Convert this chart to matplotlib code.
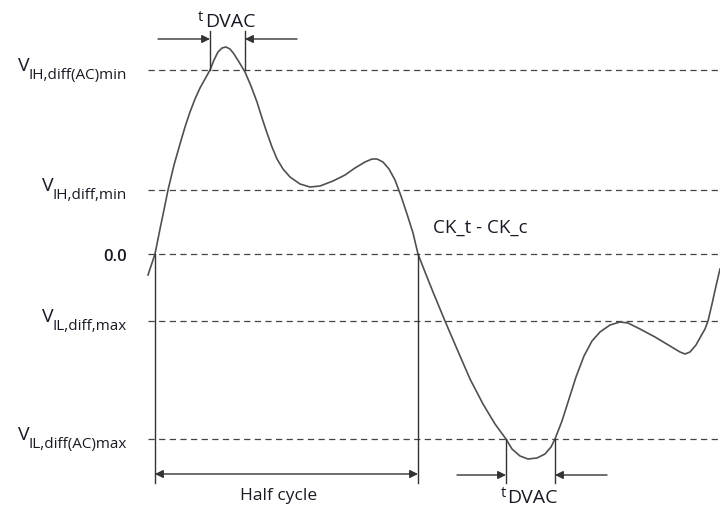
import matplotlib
matplotlib.use("Agg")
import matplotlib.pyplot as plt

plt.rcParams['font.family'] = ['Open Sans', 'DejaVu Sans']

# Reference levels (pixel-space units, y grows downwards)
level_main = ['V', 'V', '0.0', 'V', 'V']
level_sub = ['IH,diff(AC)min', 'IH,diff,min', '', 'IL,diff,max', 'IL,diff(AC)max']
level_y = [71, 191, 255, 322, 440]

# Waveform CK_t - CK_c
wave_x = [148, 152, 155, 160, 165, 168, 174, 180, 185, 190, 195, 200, 205, 210, 214, 218, 222, 226,
          230, 234, 239, 245, 251, 257, 262, 267, 272, 277, 283, 290, 300, 310, 320, 333, 345, 355,
          365, 372, 377, 383, 389, 395, 401, 407, 413, 418, 425, 433, 445, 457, 470, 483, 495, 506,
          512, 520, 528, 537, 545, 551, 555, 562, 569, 576, 584, 592, 600, 610, 620, 628, 640, 655,
          670, 680, 685, 690, 696, 701, 705, 708, 712, 716, 720]
wave_y = [276, 264, 255, 230, 206, 191, 166, 145, 128, 113, 100, 89, 80, 71, 61, 53, 49, 48,
          50, 55, 63, 73, 87, 103, 119, 134, 148, 160, 170, 178, 185, 188, 187, 182, 176, 169,
          163, 160, 160, 163, 170, 181, 197, 215, 234, 255, 273, 293, 322, 350, 380, 405, 425, 440,
          450, 457, 460, 459, 455, 448, 440, 422, 400, 378, 357, 342, 333, 326, 323, 324, 330, 338,
          347, 353, 355, 353, 346, 337, 330, 322, 305, 287, 270]

# Timing markers
half_cycle_x = [155, 418]
tdvac_top_x = [210, 245]
tdvac_bot_x = [506, 555]

fig = plt.figure(figsize=(7.2, 5.06), dpi=100)
ax = fig.add_axes([0, 0, 1, 1])
ax.set_xlim(0, 720)
ax.set_ylim(506, 0)
ax.axis('off')

txt = '#1a1a24'
lc = '#333333'

fig.canvas.draw()
renderer = fig.canvas.get_renderer()
inv = ax.transData.inverted()

for main, sub, y in zip(level_main, level_sub, level_y):
    ax.plot([148, 720], [y, y], color='#444444', lw=0.9, dashes=(5, 3.5))
    if sub == '':
        ax.text(127, y + 6, main, ha='right', va='baseline', fontsize=12, color=txt,
                fontweight='semibold')
    else:
        t = ax.text(127, y + 8, sub, ha='right', va='baseline', fontsize=11, color=txt)
        bb = t.get_window_extent(renderer)
        left = inv.transform((bb.x0, bb.y0))[0]
        ax.text(left + 0.5, y, main, ha='right', va='baseline', fontsize=14, color=txt)

ax.plot(wave_x, wave_y, color='#505050', lw=1.2)

# Half cycle
for x in half_cycle_x:
    ax.plot([x, x], [255, 484], color=lc, lw=1.0)
ax.annotate('', xy=(half_cycle_x[0], 475), xytext=(half_cycle_x[1], 475),
            arrowprops=dict(arrowstyle='<|-|>', color=lc, lw=1.0, shrinkA=0, shrinkB=0,
                            mutation_scale=12))
ax.text(279, 500, 'Half cycle', ha='center', va='baseline', fontsize=12.5, color=txt)

# tDVAC top
for x in tdvac_top_x:
    ax.plot([x, x], [32, level_y[0]], color=lc, lw=1.0)
ax.annotate('', xy=(tdvac_top_x[0], 40), xytext=(158, 40),
            arrowprops=dict(arrowstyle='-|>', color=lc, lw=1.0, shrinkA=0, shrinkB=0, mutation_scale=12))
ax.annotate('', xy=(tdvac_top_x[1], 40), xytext=(297, 40),
            arrowprops=dict(arrowstyle='-|>', color=lc, lw=1.0, shrinkA=0, shrinkB=0, mutation_scale=12))
ax.text(198, 21, 't', ha='left', va='baseline', fontsize=10.5, color=txt)
ax.text(205, 27, 'DVAC', ha='left', va='baseline', fontsize=14, color=txt)

# tDVAC bottom
for x in tdvac_bot_x:
    ax.plot([x, x], [level_y[4], 484], color=lc, lw=1.0)
ax.annotate('', xy=(tdvac_bot_x[0], 476), xytext=(457, 476),
            arrowprops=dict(arrowstyle='-|>', color=lc, lw=1.0, shrinkA=0, shrinkB=0, mutation_scale=12))
ax.annotate('', xy=(tdvac_bot_x[1], 476), xytext=(607, 476),
            arrowprops=dict(arrowstyle='-|>', color=lc, lw=1.0, shrinkA=0, shrinkB=0, mutation_scale=12))
ax.text(501, 497, 't', ha='left', va='baseline', fontsize=10.5, color=txt)
ax.text(507, 503, 'DVAC', ha='left', va='baseline', fontsize=14, color=txt)

ax.text(433, 233, 'CK_t - CK_c', ha='left', va='baseline', fontsize=13.5, color=txt)

fig.savefig('out.png', dpi=100)
